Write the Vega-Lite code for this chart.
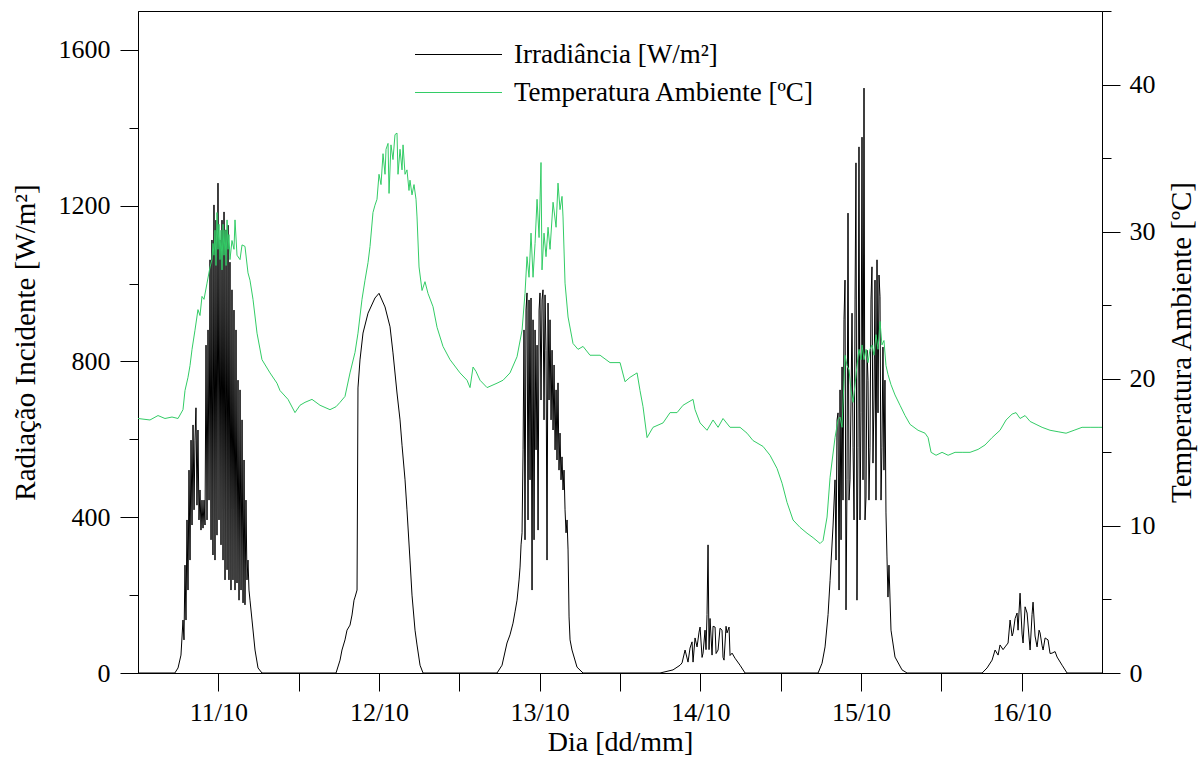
{
"$schema": "https://vega.github.io/schema/vega-lite/v6.json",
"width": 964, "height": 662,
"autosize": {"type": "none"},
"padding": {"left": 138, "top": 11, "right": 97, "bottom": 91},
"background": "white",
"config": {
 "font": "Liberation Serif",
 "view": {"stroke": "black", "strokeWidth": 1},
 "axis": {"labelFont": "Liberation Serif", "titleFont": "Liberation Serif", "labelFontSize": 26, "titleFontSize": 28, "labelColor": "black", "titleColor": "black", "domainColor": "black", "tickColor": "black", "grid": false, "titleFontWeight": "normal", "domainWidth": 1, "tickWidth": 1}
},
"datasets": {
"irr": [
{"h":0,"W":0},{"h":5.5,"W":0},{"h":5.98,"W":13},{"h":6.42,"W":46},{"h":6.72,"W":136},{"h":6.87,"W":85},{"h":7.02,"W":277},{"h":7.17,"W":136},{"h":7.32,"W":393},{"h":7.47,"W":213},{"h":7.62,"W":521},{"h":7.77,"W":290},{"h":7.92,"W":598},{"h":8.07,"W":380},{"h":8.22,"W":637},{"h":8.37,"W":419},{"h":8.51,"W":598},{"h":8.66,"W":681},{"h":8.81,"W":431},{"h":8.96,"W":624},{"h":9.11,"W":393},{"h":9.26,"W":470},{"h":9.41,"W":367},{"h":9.56,"W":444},{"h":9.71,"W":372},{"h":9.86,"W":444},{"h":10.01,"W":380},{"h":10.16,"W":842},{"h":10.31,"W":393},{"h":10.46,"W":881},{"h":10.61,"W":444},{"h":10.76,"W":1061},{"h":10.91,"W":342},{"h":11.05,"W":1112},{"h":11.2,"W":303},{"h":11.35,"W":1202},{"h":11.5,"W":290},{"h":11.65,"W":1163},{"h":11.8,"W":354},{"h":11.95,"W":1258},{"h":12.1,"W":393},{"h":12.25,"W":1112},{"h":12.4,"W":329},{"h":12.55,"W":1163},{"h":12.7,"W":290},{"h":12.85,"W":1184},{"h":13.0,"W":239},{"h":13.15,"W":1138},{"h":13.3,"W":265},{"h":13.45,"W":1150},{"h":13.59,"W":239},{"h":13.74,"W":1055},{"h":13.89,"W":213},{"h":14.04,"W":984},{"h":14.19,"W":239},{"h":14.34,"W":932},{"h":14.49,"W":213},{"h":14.64,"W":881},{"h":14.79,"W":231},{"h":14.94,"W":752},{"h":15.09,"W":187},{"h":15.24,"W":727},{"h":15.39,"W":213},{"h":15.54,"W":650},{"h":15.69,"W":180},{"h":15.84,"W":547},{"h":15.98,"W":175},{"h":16.13,"W":444},{"h":16.28,"W":239},{"h":16.43,"W":290},{"h":16.58,"W":213},{"h":16.73,"W":187},{"h":17.03,"W":136},{"h":17.48,"W":59},{"h":17.93,"W":13},{"h":18.52,"W":0},
{"h":29.58,"W":0},{"h":30.18,"W":33},{"h":30.47,"W":59},{"h":30.92,"W":85},{"h":31.22,"W":110},{"h":31.67,"W":123},{"h":31.97,"W":149},{"h":32.27,"W":187},{"h":32.42,"W":195},{"h":32.72,"W":213},{"h":32.86,"W":732},{"h":33.16,"W":804},{"h":33.61,"W":873},{"h":34.36,"W":924},{"h":35.4,"W":963},{"h":36.0,"W":975},{"h":36.9,"W":940},{"h":37.65,"W":889},{"h":38.09,"W":822},{"h":38.69,"W":719},{"h":39.14,"W":650},{"h":39.44,"W":585},{"h":39.89,"W":496},{"h":40.18,"W":419},{"h":40.63,"W":290},{"h":40.93,"W":200},{"h":41.38,"W":110},{"h":41.68,"W":72},{"h":42.13,"W":20},{"h":42.58,"W":0},
{"h":53.63,"W":0},{"h":54.38,"W":20},{"h":55.12,"W":77},{"h":55.57,"W":98},{"h":56.02,"W":128},{"h":56.32,"W":157},{"h":56.62,"W":187},{"h":56.92,"W":239},{"h":57.07,"W":272},{"h":57.22,"W":329},{"h":57.37,"W":360},{"h":57.52,"W":573},{"h":57.66,"W":881},{"h":57.81,"W":342},{"h":57.96,"W":932},{"h":58.11,"W":976},{"h":58.26,"W":393},{"h":58.41,"W":958},{"h":58.56,"W":496},{"h":58.71,"W":963},{"h":58.86,"W":213},{"h":59.01,"W":907},{"h":59.16,"W":342},{"h":59.31,"W":881},{"h":59.46,"W":573},{"h":59.61,"W":842},{"h":59.76,"W":367},{"h":59.91,"W":932},{"h":60.05,"W":976},{"h":60.2,"W":701},{"h":60.35,"W":958},{"h":60.5,"W":984},{"h":60.65,"W":650},{"h":60.8,"W":971},{"h":60.95,"W":829},{"h":61.1,"W":290},{"h":61.25,"W":950},{"h":61.4,"W":701},{"h":61.55,"W":907},{"h":61.7,"W":650},{"h":61.85,"W":829},{"h":62.0,"W":624},{"h":62.15,"W":791},{"h":62.3,"W":573},{"h":62.45,"W":727},{"h":62.59,"W":547},{"h":62.74,"W":745},{"h":62.89,"W":521},{"h":63.04,"W":616},{"h":63.19,"W":496},{"h":63.34,"W":555},{"h":63.49,"W":470},{"h":63.64,"W":521},{"h":63.79,"W":419},{"h":63.94,"W":360},{"h":64.09,"W":393},{"h":64.24,"W":316},{"h":64.39,"W":144},{"h":64.54,"W":85},{"h":64.83,"W":59},{"h":65.58,"W":15},{"h":66.48,"W":0},
{"h":77.98,"W":0},{"h":79.92,"W":8},{"h":80.97,"W":20},{"h":81.27,"W":26},{"h":81.72,"W":59},{"h":82.16,"W":28},{"h":82.46,"W":64},{"h":82.76,"W":80},{"h":82.91,"W":28},{"h":83.21,"W":90},{"h":83.51,"W":67},{"h":83.81,"W":105},{"h":83.96,"W":118},{"h":84.26,"W":40},{"h":84.41,"W":51},{"h":84.7,"W":110},{"h":84.85,"W":60},{"h":85.0,"W":150},{"h":85.15,"W":329},{"h":85.3,"W":60},{"h":85.45,"W":140},{"h":85.75,"W":46},{"h":85.9,"W":120},{"h":86.2,"W":118},{"h":86.35,"W":50},{"h":86.65,"W":59},{"h":86.94,"W":115},{"h":87.24,"W":110},{"h":87.39,"W":40},{"h":87.54,"W":33},{"h":87.84,"W":120},{"h":87.99,"W":103},{"h":88.29,"W":118},{"h":88.44,"W":45},{"h":88.74,"W":51},{"h":89.18,"W":38},{"h":89.93,"W":20},{"h":90.68,"W":0},
{"h":101.59,"W":0},{"h":102.18,"W":25},{"h":102.63,"W":67},{"h":103.08,"W":150},{"h":103.38,"W":238},{"h":103.83,"W":380},{"h":104.12,"W":496},{"h":104.27,"W":290},{"h":104.42,"W":650},{"h":104.57,"W":668},{"h":104.72,"W":213},{"h":104.87,"W":727},{"h":105.02,"W":342},{"h":105.17,"W":786},{"h":105.31,"W":444},{"h":105.46,"W":907},{"h":105.61,"W":1009},{"h":105.76,"W":162},{"h":105.91,"W":496},{"h":106.06,"W":1181},{"h":106.21,"W":444},{"h":106.36,"W":496},{"h":106.51,"W":701},{"h":106.66,"W":924},{"h":106.81,"W":580},{"h":106.96,"W":393},{"h":107.11,"W":958},{"h":107.25,"W":1310},{"h":107.4,"W":187},{"h":107.55,"W":580},{"h":107.7,"W":1351},{"h":107.85,"W":393},{"h":108.0,"W":668},{"h":108.15,"W":1376},{"h":108.3,"W":496},{"h":108.45,"W":1502},{"h":108.6,"W":393},{"h":108.75,"W":452},{"h":108.9,"W":829},{"h":109.05,"W":752},{"h":109.19,"W":444},{"h":109.34,"W":580},{"h":109.49,"W":958},{"h":109.64,"W":1043},{"h":109.79,"W":539},{"h":109.94,"W":701},{"h":110.09,"W":1009},{"h":110.24,"W":444},{"h":110.39,"W":1061},{"h":110.54,"W":668},{"h":110.69,"W":1022},{"h":110.84,"W":966},{"h":110.99,"W":444},{"h":111.13,"W":580},{"h":111.28,"W":837},{"h":111.43,"W":521},{"h":111.58,"W":752},{"h":111.73,"W":411},{"h":111.88,"W":298},{"h":112.03,"W":195},{"h":112.18,"W":277},{"h":112.48,"W":110},{"h":113.08,"W":41},{"h":114.13,"W":8},{"h":114.88,"W":0},
{"h":126.09,"W":0},{"h":126.83,"W":13},{"h":127.58,"W":33},{"h":128.03,"W":59},{"h":128.48,"W":46},{"h":128.77,"W":72},{"h":129.22,"W":60},{"h":129.52,"W":67},{"h":129.97,"W":77},{"h":130.27,"W":136},{"h":130.57,"W":95},{"h":130.72,"W":103},{"h":131.02,"W":140},{"h":131.31,"W":154},{"h":131.46,"W":110},{"h":131.76,"W":205},{"h":132.06,"W":100},{"h":132.21,"W":77},{"h":132.51,"W":170},{"h":132.81,"W":154},{"h":133.11,"W":90},{"h":133.26,"W":59},{"h":133.55,"W":150},{"h":133.7,"W":182},{"h":134.0,"W":95},{"h":134.3,"W":67},{"h":134.6,"W":110},{"h":134.75,"W":103},{"h":135.05,"W":70},{"h":135.2,"W":59},{"h":135.5,"W":90},{"h":135.94,"W":85},{"h":136.24,"W":50},{"h":136.54,"W":51},{"h":136.99,"W":55},{"h":137.29,"W":41},{"h":138.04,"W":20},{"h":138.78,"W":0},{"h":144,"W":0}
],
"temp": [
{"h":0,"T":17.3},{"h":1.79,"T":17.2},{"h":2.99,"T":17.5},{"h":4.03,"T":17.3},{"h":5.08,"T":17.4},{"h":5.98,"T":17.3},{"h":6.72,"T":17.9},{"h":7.02,"T":19.2},{"h":7.47,"T":20.1},{"h":7.77,"T":20.9},{"h":8.07,"T":22.0},{"h":8.51,"T":23.3},{"h":8.96,"T":24.7},{"h":9.26,"T":24.3},{"h":9.56,"T":25.6},{"h":9.86,"T":25.4},{"h":10.31,"T":26.5},{"h":10.76,"T":27.6},{"h":11.05,"T":28.1},{"h":11.2,"T":29.2},{"h":11.35,"T":28.4},{"h":11.5,"T":30.1},{"h":11.65,"T":27.7},{"h":11.8,"T":31.3},{"h":11.95,"T":28.8},{"h":12.1,"T":30.5},{"h":12.25,"T":28.1},{"h":12.4,"T":30.1},{"h":12.55,"T":27.4},{"h":12.7,"T":30.5},{"h":12.85,"T":28.4},{"h":13.0,"T":30.1},{"h":13.15,"T":27.7},{"h":13.3,"T":30.8},{"h":13.45,"T":28.8},{"h":13.59,"T":29.8},{"h":13.74,"T":28.1},{"h":14.04,"T":29.4},{"h":14.34,"T":28.8},{"h":14.49,"T":30.8},{"h":14.79,"T":28.4},{"h":15.24,"T":28.1},{"h":15.54,"T":29.1},{"h":15.98,"T":29.0},{"h":16.43,"T":27.2},{"h":16.73,"T":26.7},{"h":17.18,"T":25.4},{"h":17.78,"T":23.1},{"h":18.52,"T":21.3},{"h":19.72,"T":20.4},{"h":20.76,"T":19.7},{"h":21.21,"T":19.2},{"h":22.41,"T":18.6},{"h":23.45,"T":17.7},{"h":24.2,"T":18.2},{"h":24.95,"T":18.4},{"h":25.99,"T":18.6},{"h":27.19,"T":18.2},{"h":28.68,"T":17.9},{"h":29.58,"T":18.1},{"h":30.18,"T":18.4},{"h":30.92,"T":18.8},{"h":31.67,"T":20.4},{"h":32.42,"T":21.8},{"h":32.86,"T":23.1},{"h":33.46,"T":25.4},{"h":33.91,"T":26.7},{"h":34.36,"T":27.9},{"h":34.66,"T":29.0},{"h":35.1,"T":31.3},{"h":35.4,"T":31.8},{"h":35.7,"T":32.2},{"h":36.0,"T":33.9},{"h":36.3,"T":33.2},{"h":36.6,"T":35.3},{"h":36.9,"T":33.9},{"h":37.05,"T":35.6},{"h":37.35,"T":36.0},{"h":37.5,"T":32.6},{"h":37.79,"T":35.9},{"h":38.09,"T":34.9},{"h":38.39,"T":36.6},{"h":38.69,"T":36.7},{"h":38.84,"T":33.9},{"h":39.14,"T":35.6},{"h":39.44,"T":34.2},{"h":39.59,"T":35.9},{"h":39.89,"T":33.9},{"h":40.18,"T":34.2},{"h":40.48,"T":32.8},{"h":40.63,"T":33.5},{"h":40.93,"T":32.5},{"h":41.23,"T":33.2},{"h":41.53,"T":32.2},{"h":41.68,"T":31.0},{"h":41.98,"T":27.6},{"h":42.43,"T":26.0},{"h":42.87,"T":26.6},{"h":43.32,"T":25.8},{"h":44.07,"T":24.9},{"h":44.67,"T":23.5},{"h":45.56,"T":22.2},{"h":46.61,"T":21.3},{"h":48.1,"T":20.4},{"h":49.15,"T":19.9},{"h":49.6,"T":19.4},{"h":50.05,"T":20.8},{"h":50.49,"T":20.5},{"h":51.09,"T":19.9},{"h":52.14,"T":19.4},{"h":53.63,"T":19.7},{"h":54.53,"T":19.9},{"h":55.57,"T":20.4},{"h":56.62,"T":21.5},{"h":57.37,"T":23.3},{"h":57.81,"T":25.8},{"h":58.11,"T":28.3},{"h":58.41,"T":26.9},{"h":58.71,"T":29.9},{"h":59.01,"T":26.9},{"h":59.31,"T":29.2},{"h":59.61,"T":32.2},{"h":59.91,"T":29.6},{"h":60.2,"T":34.7},{"h":60.35,"T":27.4},{"h":60.65,"T":29.9},{"h":60.95,"T":28.3},{"h":61.25,"T":30.3},{"h":61.55,"T":28.8},{"h":62.0,"T":32.0},{"h":62.45,"T":30.3},{"h":62.74,"T":33.3},{"h":63.04,"T":31.5},{"h":63.34,"T":32.4},{"h":63.49,"T":31.0},{"h":63.79,"T":26.5},{"h":64.24,"T":24.2},{"h":64.98,"T":22.4},{"h":65.73,"T":22.0},{"h":66.48,"T":22.2},{"h":67.52,"T":21.6},{"h":69.02,"T":21.6},{"h":70.51,"T":21.1},{"h":72.01,"T":21.1},{"h":72.75,"T":19.8},{"h":73.5,"T":20.1},{"h":74.55,"T":20.4},{"h":74.99,"T":19.2},{"h":75.44,"T":18.1},{"h":76.04,"T":16.0},{"h":76.93,"T":16.7},{"h":78.43,"T":17.0},{"h":79.48,"T":17.7},{"h":80.52,"T":17.7},{"h":81.42,"T":18.2},{"h":82.16,"T":18.4},{"h":82.91,"T":18.6},{"h":83.21,"T":17.9},{"h":83.96,"T":17.0},{"h":85.0,"T":16.5},{"h":85.9,"T":17.2},{"h":86.65,"T":16.7},{"h":87.39,"T":17.3},{"h":88.44,"T":16.7},{"h":89.93,"T":16.7},{"h":90.98,"T":16.3},{"h":91.87,"T":15.8},{"h":93.37,"T":15.4},{"h":94.41,"T":14.8},{"h":95.46,"T":13.9},{"h":96.21,"T":12.9},{"h":96.95,"T":11.6},{"h":97.85,"T":10.4},{"h":98.89,"T":9.9},{"h":99.94,"T":9.5},{"h":100.84,"T":9.2},{"h":101.89,"T":8.8},{"h":102.33,"T":9.0},{"h":102.93,"T":10.6},{"h":103.38,"T":13.3},{"h":104.12,"T":16.0},{"h":104.57,"T":17.2},{"h":104.87,"T":17.4},{"h":105.17,"T":16.7},{"h":105.46,"T":19.9},{"h":105.61,"T":21.6},{"h":105.91,"T":20.9},{"h":106.21,"T":20.6},{"h":106.51,"T":19.2},{"h":106.81,"T":18.4},{"h":107.11,"T":19.6},{"h":107.4,"T":20.9},{"h":107.7,"T":22.0},{"h":108.0,"T":21.3},{"h":108.15,"T":22.3},{"h":108.45,"T":21.3},{"h":108.75,"T":22.0},{"h":109.05,"T":21.1},{"h":109.34,"T":22.0},{"h":109.64,"T":22.3},{"h":109.94,"T":21.6},{"h":110.24,"T":23.0},{"h":110.54,"T":22.0},{"h":110.84,"T":23.9},{"h":111.13,"T":22.3},{"h":111.43,"T":22.6},{"h":111.73,"T":20.9},{"h":112.03,"T":20.3},{"h":112.48,"T":19.6},{"h":113.08,"T":18.9},{"h":113.83,"T":18.2},{"h":114.58,"T":17.5},{"h":115.33,"T":16.9},{"h":116.52,"T":16.5},{"h":117.57,"T":16.3},{"h":118.02,"T":16.0},{"h":118.47,"T":15.0},{"h":119.21,"T":14.8},{"h":120.11,"T":15.0},{"h":121.01,"T":14.8},{"h":122.05,"T":15.0},{"h":123.1,"T":15.0},{"h":124.29,"T":15.0},{"h":125.49,"T":15.2},{"h":126.53,"T":15.5},{"h":127.58,"T":16.0},{"h":128.77,"T":16.5},{"h":129.67,"T":17.2},{"h":130.57,"T":17.6},{"h":131.16,"T":17.7},{"h":131.76,"T":17.3},{"h":132.51,"T":17.5},{"h":133.26,"T":17.1},{"h":134.15,"T":16.9},{"h":135.05,"T":16.7},{"h":136.24,"T":16.5},{"h":137.44,"T":16.4},{"h":138.63,"T":16.3},{"h":139.83,"T":16.5},{"h":141.02,"T":16.7},{"h":142.22,"T":16.7},{"h":143.41,"T":16.7},{"h":144,"T":16.7}
]
},
"layer": [
{
 "data": {"name": "irr"},
 "mark": {"type": "line", "strokeWidth": 1},
 "encoding": {
  "x": {"field": "h", "type": "quantitative", "scale": {"domain": [0, 144], "nice": false, "zero": false},
   "axis": {"values": [12,24,36,48,60,72,84,96,108,120,132], "labelExpr": "datum.value % 24 === 12 ? (floor(datum.value/24)+11) + '/10' : ''", "tickSize": 18, "labelPadding": 8, "title": "Dia [dd/mm]", "titlePadding": 3, "labelFlush": false, "labelOverlap": false}},
  "y": {"field": "W", "type": "quantitative", "scale": {"domain": [0, 1700], "nice": false},
   "axis": {"values": [0,200,400,600,800,1000,1200,1400,1600], "format": "d", "labelExpr": "datum.value % 400 === 0 ? datum.label : ''", "tickSize": {"condition": {"test": "datum.value % 400 === 0", "value": 18}, "value": 9}, "labelPadding": 10, "title": "Radiação Incidente [W/m²]", "titleFontSize": 29, "titlePadding": 18, "labelOverlap": false}},
  "color": {"datum": "Irradiância [W/m²]", "type": "nominal",
   "scale": {"domain": ["Irradiância [W/m²]", "Temperatura Ambiente [ºC]"], "range": ["#000000", "#33cc66"]},
   "legend": {"title": null, "orient": "none", "legendX": 276, "legendY": 30, "symbolType": "stroke", "symbolSize": 7569, "symbolStrokeWidth": 1.2, "labelFontSize": 27, "labelFont": "Liberation Serif", "labelColor": "black", "clipHeight": 27, "rowPadding": 10, "labelLimit": 0, "labelOffset": 11, "padding": 0}}
 }
},
{
 "data": {"name": "temp"},
 "mark": {"type": "line", "strokeWidth": 1},
 "encoding": {
  "x": {"field": "h", "type": "quantitative"},
  "y": {"field": "T", "type": "quantitative", "scale": {"domain": [0, 45], "nice": false},
   "axis": {"orient": "right", "values": [0,5,10,15,20,25,30,35,40,45], "labelExpr": "datum.value % 10 === 0 ? datum.label : ''", "tickSize": {"condition": {"test": "datum.value % 10 === 0", "value": 18}, "value": 9}, "labelPadding": 9, "title": "Temperatura Ambiente [ºC]", "titleFontSize": 29, "titleAngle": 270, "titleBaseline": "top", "titlePadding": 12, "labelOverlap": false}},
  "color": {"datum": "Temperatura Ambiente [ºC]", "type": "nominal"}
 }
}
],
"resolve": {"scale": {"y": "independent"}}
}
